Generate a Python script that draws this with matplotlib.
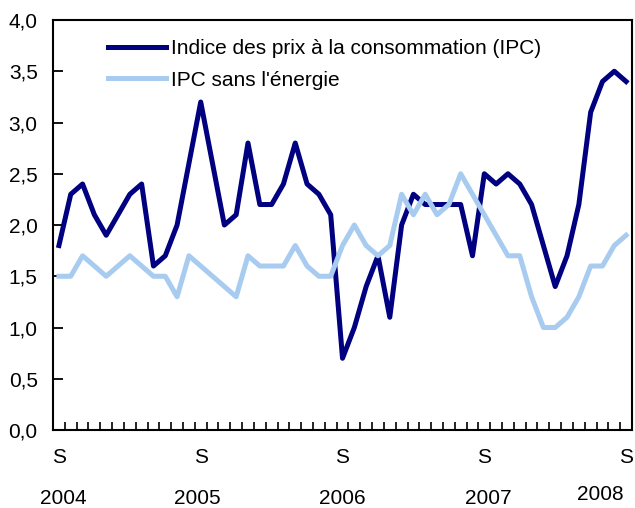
import numpy as np
import matplotlib
matplotlib.use('Agg')
import matplotlib.pyplot as plt
from matplotlib import rcParams
from matplotlib.ticker import FixedLocator, FuncFormatter
import matplotlib.transforms as mtransforms
rcParams.update({'font.size': 15, 'font.family': ['Liberation Sans', 'DejaVu Sans']})

# monthly data, Sep 2004 - Sep 2008
ipc = [1.8, 2.3, 2.4, 2.1, 1.9, 2.1, 2.3, 2.4, 1.6, 1.7, 2.0, 2.6, 3.2,
       2.6, 2.0, 2.1, 2.8, 2.2, 2.2, 2.4, 2.8, 2.4, 2.3, 2.1, 0.7,
       1.0, 1.4, 1.7, 1.1, 2.0, 2.3, 2.2, 2.2, 2.2, 2.2, 1.7, 2.5,
       2.4, 2.5, 2.4, 2.2, 1.8, 1.4, 1.7, 2.2, 3.1, 3.4, 3.5, 3.4]
ipc_sans_energie = [1.5, 1.5, 1.7, 1.6, 1.5, 1.6, 1.7, 1.6, 1.5, 1.5, 1.3, 1.7, 1.6,
                    1.5, 1.4, 1.3, 1.7, 1.6, 1.6, 1.6, 1.8, 1.6, 1.5, 1.5, 1.8,
                    2.0, 1.8, 1.7, 1.8, 2.3, 2.1, 2.3, 2.1, 2.2, 2.5, 2.3, 2.1,
                    1.9, 1.7, 1.7, 1.3, 1.0, 1.0, 1.1, 1.3, 1.6, 1.6, 1.8, 1.9]
labels = ['Indice des prix à la consommation (IPC)', "IPC sans l'énergie"]
sept_idx = [0, 12, 24, 36, 48]
years = ['2004', '2005', '2006', '2007', '2008']
year_pos = [0.4, 11.7, 24, 36.3, 45.8]

dark = '#000080'
light = '#A8CBF0'

fig = plt.figure(figsize=(6.35, 5.08), dpi=100)
ax = fig.add_axes([0.0835, 0.1535, 0.9953 - 0.0835, 0.9606 - 0.1535])

x = np.arange(len(ipc))
ax.plot(x, ipc, color=dark, lw=3.6, label=labels[0])
ax.plot(x, ipc_sans_energie, color=light, lw=3.6, label=labels[1])

ax.set_xlim(-0.5, len(ipc) - 0.5)
ax.set_ylim(0, 4)
ax.set_yticks(np.arange(0, 4.01, 0.5))
ax.yaxis.set_major_formatter(FuncFormatter(lambda v, p: ('%.1f' % v).replace('.', ',')))
ax.tick_params(axis='y', direction='in', length=7, width=1.3, labelsize=15, pad=11)

ax.set_xticks(sept_idx)
ax.set_xticklabels(['S'] * len(sept_idx))
ax.xaxis.set_minor_locator(FixedLocator(np.arange(0.5, len(ipc) - 1, 1)))
ax.tick_params(axis='x', which='major', length=0, labelsize=15, pad=13)
ax.tick_params(axis='x', which='minor', direction='in', length=5.5, width=1.2)

for s in ax.spines.values():
    s.set_linewidth(1.5)

trans = mtransforms.blended_transform_factory(ax.transData, fig.transFigure)
for yr, xp in zip(years, year_pos):
    yy = 0.026 if yr == '2008' else 0.0195
    ax.text(xp, yy, yr, transform=trans, ha='center', va='center', fontsize=15)

ax.legend(loc='upper left', bbox_to_anchor=(0.095, 0.953), frameon=False,
          borderpad=0, handlelength=2.8, handletextpad=0.2, labelspacing=0.6,
          fontsize=15, borderaxespad=0)

plt.savefig('out.png', dpi=100)
plt.close()
